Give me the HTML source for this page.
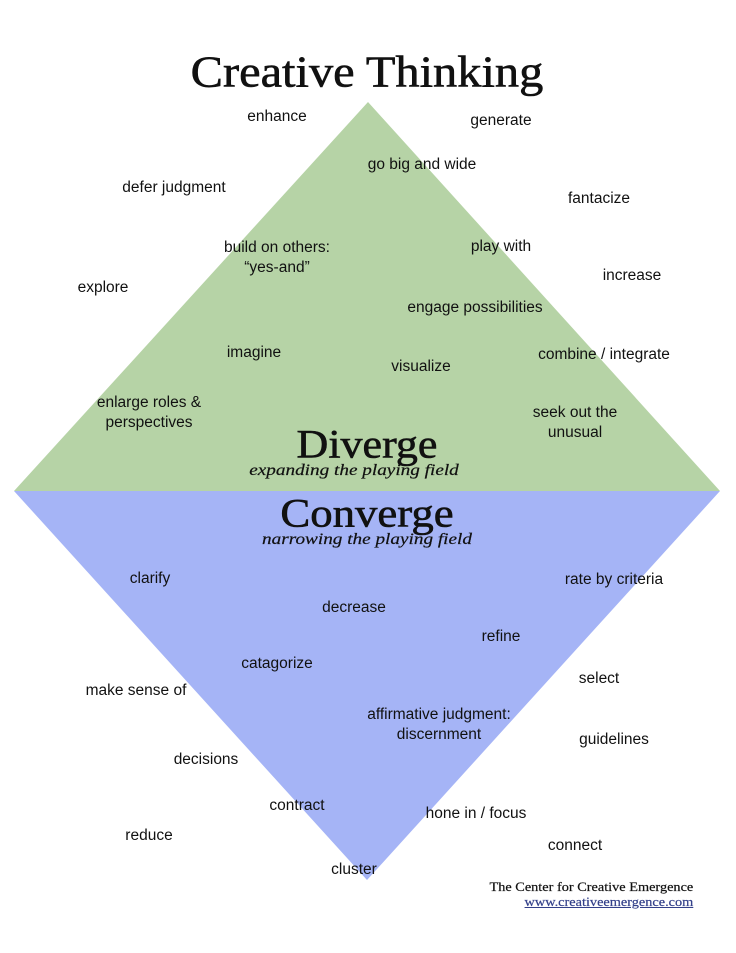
<!DOCTYPE html>
<html><head><meta charset="utf-8"><style>
body{margin:0;width:736px;height:953px;background:#fff;position:relative;overflow:hidden;font-family:"Liberation Sans",sans-serif;color:#111}
.t{position:absolute;transform:translate(-50%,-50%);font-size:15.5px;text-align:center;white-space:nowrap;line-height:20px}
.h{position:absolute;font-family:"Liberation Serif",serif;white-space:nowrap;-webkit-text-stroke:0.6px #111}
</style></head><body>
<svg width="736" height="953" style="position:absolute;left:0;top:0">
<polygon points="368,102 720,491 14,491" fill="#b6d3a6"/>
<polygon points="14,491 720,491 367,880" fill="#a5b4f6"/>
</svg>
<div class="h" style="left:367px;top:72px;font-size:44px;transform:translate(-50%,-50%) scaleX(1.1)">Creative Thinking</div>
<div class="h" style="left:367px;top:444px;font-size:40px;transform:translate(-50%,-50%) scaleX(1.1)">Diverge</div>
<div class="h" style="left:354px;top:471px;font-size:16px;font-style:italic;-webkit-text-stroke:0.2px #111;transform:translate(-50%,-50%) scaleX(1.2)">expanding the playing field</div>
<div class="h" style="left:367px;top:513px;font-size:40px;transform:translate(-50%,-50%) scaleX(1.12)">Converge</div>
<div class="h" style="left:367px;top:540px;font-size:16px;font-style:italic;-webkit-text-stroke:0.2px #111;transform:translate(-50%,-50%) scaleX(1.2)">narrowing the playing field</div>
<div class="t" style="left:277px;top:117px">enhance</div>
<div class="t" style="left:501px;top:121px">generate</div>
<div class="t" style="left:422px;top:165px">go big and wide</div>
<div class="t" style="left:174px;top:188px">defer judgment</div>
<div class="t" style="left:599px;top:199px">fantacize</div>
<div class="t" style="left:277px;top:258px">build on others:<br>“yes-and”</div>
<div class="t" style="left:501px;top:247px">play with</div>
<div class="t" style="left:632px;top:276px">increase</div>
<div class="t" style="left:103px;top:288px">explore</div>
<div class="t" style="left:475px;top:308px">engage possibilities</div>
<div class="t" style="left:254px;top:353px">imagine</div>
<div class="t" style="left:421px;top:367px">visualize</div>
<div class="t" style="left:604px;top:355px">combine / integrate</div>
<div class="t" style="left:149px;top:413px">enlarge roles &amp;<br>perspectives</div>
<div class="t" style="left:575px;top:423px">seek out the<br>unusual</div>
<div class="t" style="left:150px;top:579px">clarify</div>
<div class="t" style="left:614px;top:580px">rate by criteria</div>
<div class="t" style="left:354px;top:608px">decrease</div>
<div class="t" style="left:501px;top:637px">refine</div>
<div class="t" style="left:277px;top:664px">catagorize</div>
<div class="t" style="left:599px;top:679px">select</div>
<div class="t" style="left:136px;top:691px">make sense of</div>
<div class="t" style="left:439px;top:725px">affirmative judgment:<br>discernment</div>
<div class="t" style="left:614px;top:740px">guidelines</div>
<div class="t" style="left:206px;top:760px">decisions</div>
<div class="t" style="left:297px;top:806px">contract</div>
<div class="t" style="left:476px;top:814px">hone in / focus</div>
<div class="t" style="left:149px;top:836px">reduce</div>
<div class="t" style="left:575px;top:846px">connect</div>
<div class="t" style="left:354px;top:870px">cluster</div>
<div style="position:absolute;right:43px;top:879px;text-align:right;font-family:'Liberation Serif',serif;font-size:13px;line-height:15px;transform:scaleX(1.1);transform-origin:right top;-webkit-text-stroke:0.2px #111">The Center for Creative Emergence<br><span style="color:#33408a;text-decoration:underline;-webkit-text-stroke:0.2px #33408a">www.creativeemergence.com</span></div>
</body></html>
